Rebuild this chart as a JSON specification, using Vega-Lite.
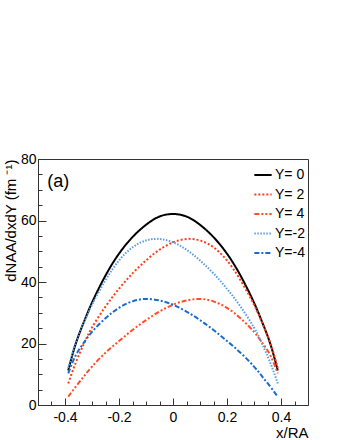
{
  "$schema": "https://vega.github.io/schema/vega-lite/v6.json",
  "width": 270,
  "height": 246,
  "autosize": {"type": "none"},
  "padding": {"left": 38, "top": 159, "right": 32, "bottom": 35},
  "config": {
    "font": "Liberation Sans",
    "view": {"stroke": "#333333", "strokeWidth": 1}
  },
  "datasets": {
    "curves": [
      {"s": "Y= 0", "x": -0.388, "y": 11.2}, {"s": "Y= 0", "x": -0.36, "y": 20.0}, {"s": "Y= 0", "x": -0.33, "y": 27.0}, {"s": "Y= 0", "x": -0.3, "y": 33.3}, {"s": "Y= 0", "x": -0.25, "y": 42.1}, {"s": "Y= 0", "x": -0.2, "y": 49.2}, {"s": "Y= 0", "x": -0.15, "y": 54.6}, {"s": "Y= 0", "x": -0.1, "y": 58.6}, {"s": "Y= 0", "x": -0.05, "y": 61.3}, {"s": "Y= 0", "x": 0, "y": 62.1}, {"s": "Y= 0", "x": 0.05, "y": 61.3}, {"s": "Y= 0", "x": 0.1, "y": 58.6}, {"s": "Y= 0", "x": 0.15, "y": 54.6}, {"s": "Y= 0", "x": 0.2, "y": 49.2}, {"s": "Y= 0", "x": 0.25, "y": 42.1}, {"s": "Y= 0", "x": 0.3, "y": 33.3}, {"s": "Y= 0", "x": 0.33, "y": 27.0}, {"s": "Y= 0", "x": 0.36, "y": 20.0}, {"s": "Y= 0", "x": 0.388, "y": 11.2},
      {"s": "Y= 2", "x": -0.388, "y": 7.0}, {"s": "Y= 2", "x": -0.36, "y": 13.8}, {"s": "Y= 2", "x": -0.33, "y": 19.9}, {"s": "Y= 2", "x": -0.3, "y": 25.2}, {"s": "Y= 2", "x": -0.25, "y": 32.0}, {"s": "Y= 2", "x": -0.2, "y": 37.8}, {"s": "Y= 2", "x": -0.15, "y": 42.8}, {"s": "Y= 2", "x": -0.1, "y": 47.0}, {"s": "Y= 2", "x": -0.05, "y": 50.5}, {"s": "Y= 2", "x": 0, "y": 52.9}, {"s": "Y= 2", "x": 0.05, "y": 54.0}, {"s": "Y= 2", "x": 0.1, "y": 53.5}, {"s": "Y= 2", "x": 0.15, "y": 51.3}, {"s": "Y= 2", "x": 0.2, "y": 47.0}, {"s": "Y= 2", "x": 0.25, "y": 40.6}, {"s": "Y= 2", "x": 0.3, "y": 32.6}, {"s": "Y= 2", "x": 0.33, "y": 26.8}, {"s": "Y= 2", "x": 0.36, "y": 20.2}, {"s": "Y= 2", "x": 0.388, "y": 12.0},
      {"s": "Y= 4", "x": -0.388, "y": 2.7}, {"s": "Y= 4", "x": -0.36, "y": 6.0}, {"s": "Y= 4", "x": -0.33, "y": 9.3}, {"s": "Y= 4", "x": -0.3, "y": 12.5}, {"s": "Y= 4", "x": -0.25, "y": 17.0}, {"s": "Y= 4", "x": -0.2, "y": 20.8}, {"s": "Y= 4", "x": -0.15, "y": 24.4}, {"s": "Y= 4", "x": -0.1, "y": 27.6}, {"s": "Y= 4", "x": -0.05, "y": 30.4}, {"s": "Y= 4", "x": 0, "y": 32.6}, {"s": "Y= 4", "x": 0.05, "y": 34.0}, {"s": "Y= 4", "x": 0.1, "y": 34.5}, {"s": "Y= 4", "x": 0.15, "y": 33.7}, {"s": "Y= 4", "x": 0.2, "y": 31.6}, {"s": "Y= 4", "x": 0.25, "y": 28.2}, {"s": "Y= 4", "x": 0.3, "y": 23.8}, {"s": "Y= 4", "x": 0.33, "y": 20.3}, {"s": "Y= 4", "x": 0.36, "y": 16.2}, {"s": "Y= 4", "x": 0.388, "y": 10.3},
      {"s": "Y=-2", "x": 0.388, "y": 7.0}, {"s": "Y=-2", "x": 0.36, "y": 13.8}, {"s": "Y=-2", "x": 0.33, "y": 19.9}, {"s": "Y=-2", "x": 0.3, "y": 25.2}, {"s": "Y=-2", "x": 0.25, "y": 32.0}, {"s": "Y=-2", "x": 0.2, "y": 37.8}, {"s": "Y=-2", "x": 0.15, "y": 42.8}, {"s": "Y=-2", "x": 0.1, "y": 47.0}, {"s": "Y=-2", "x": 0.05, "y": 50.5}, {"s": "Y=-2", "x": 0, "y": 52.9}, {"s": "Y=-2", "x": -0.05, "y": 54.0}, {"s": "Y=-2", "x": -0.1, "y": 53.5}, {"s": "Y=-2", "x": -0.15, "y": 51.3}, {"s": "Y=-2", "x": -0.2, "y": 47.0}, {"s": "Y=-2", "x": -0.25, "y": 40.6}, {"s": "Y=-2", "x": -0.3, "y": 32.6}, {"s": "Y=-2", "x": -0.33, "y": 26.8}, {"s": "Y=-2", "x": -0.36, "y": 20.2}, {"s": "Y=-2", "x": -0.388, "y": 12.0},
      {"s": "Y=-4", "x": 0.388, "y": 2.7}, {"s": "Y=-4", "x": 0.36, "y": 6.0}, {"s": "Y=-4", "x": 0.33, "y": 9.3}, {"s": "Y=-4", "x": 0.3, "y": 12.5}, {"s": "Y=-4", "x": 0.25, "y": 17.0}, {"s": "Y=-4", "x": 0.2, "y": 20.8}, {"s": "Y=-4", "x": 0.15, "y": 24.4}, {"s": "Y=-4", "x": 0.1, "y": 27.6}, {"s": "Y=-4", "x": 0.05, "y": 30.4}, {"s": "Y=-4", "x": 0, "y": 32.6}, {"s": "Y=-4", "x": -0.05, "y": 34.0}, {"s": "Y=-4", "x": -0.1, "y": 34.5}, {"s": "Y=-4", "x": -0.15, "y": 33.7}, {"s": "Y=-4", "x": -0.2, "y": 31.6}, {"s": "Y=-4", "x": -0.25, "y": 28.2}, {"s": "Y=-4", "x": -0.3, "y": 23.8}, {"s": "Y=-4", "x": -0.33, "y": 20.3}, {"s": "Y=-4", "x": -0.36, "y": 16.2}, {"s": "Y=-4", "x": -0.388, "y": 10.3}
    ],
    "tag": [{"label": "(a)", "x": -0.466, "y": 72.5}]
  },
  "resolve": {"axis": {"x": "independent", "y": "independent"}},
  "layer": [
    {
      "data": {"name": "curves"},
      "mark": {"type": "line", "interpolate": "natural"},
      "encoding": {
        "x": {
          "field": "x", "type": "quantitative",
          "scale": {"domain": [-0.5, 0.5], "nice": false, "zero": false},
          "axis": {
            "orient": "bottom",
            "values": [-0.4, -0.2, 0, 0.2, 0.4],
            "labelExpr": "abs(datum.value) < 0.001 ? '0' : (datum.value < 0 ? '-' : '') + toString(round(abs(datum.value)*10)/10)",
            "tickSize": -7,
            "grid": false,
            "domainColor": "#333333",
            "tickColor": "#333333",
            "labelColor": "#000000",
            "labelFontSize": 14,
            "labelPadding": 12,
            "labelFlush": false,
            "labelOverlap": false,
            "title": "x/RA",
            "titleAnchor": "end",
            "titleAlign": "right",
            "titleFontSize": 15,
            "titleFontWeight": "normal",
            "titleColor": "#000000",
            "titlePadding": 1
          }
        },
        "y": {
          "field": "y", "type": "quantitative",
          "scale": {"domain": [0, 80], "nice": false},
          "axis": {
            "orient": "left",
            "values": [0, 20, 40, 60, 80],
            "tickSize": -8,
            "grid": false,
            "domainColor": "#333333",
            "tickColor": "#333333",
            "labelColor": "#000000",
            "labelFontSize": 14,
            "labelPadding": 10,
            "labelFlush": false,
            "labelOverlap": false,
            "title": "dNAA/dxdY (fm ⁻¹)",
            "titleAnchor": "end",
            "titleFontSize": 15,
            "titleFontWeight": "normal",
            "titleColor": "#000000",
            "titlePadding": 2
          }
        },
        "color": {
          "field": "s", "type": "nominal",
          "scale": {"domain": ["Y= 0", "Y= 2", "Y= 4", "Y=-2", "Y=-4"], "range": ["#000000", "#ff3b1a", "#ff4d26", "#5a9de6", "#1a6bd0"]},
          "legend": {
            "title": null,
            "orient": "none",
            "legendX": 215,
            "legendY": 6,
            "symbolType": "stroke",
            "symbolSize": 300,
            "symbolStrokeWidth": 2,
            "labelFontSize": 14,
            "labelColor": "#000000",
            "labelOffset": 2,
            "rowPadding": 2.5,
            "padding": 0
          }
        },
        "strokeDash": {
          "field": "s", "type": "nominal",
          "scale": {"domain": ["Y= 0", "Y= 2", "Y= 4", "Y=-2", "Y=-4"], "range": [[1, 0], [2, 2], [5, 2, 2, 2, 2, 2], [1.5, 1.5], [5, 2, 2, 2]]},
          "legend": null
        },
        "strokeWidth": {
          "field": "s", "type": "nominal",
          "scale": {"domain": ["Y= 0", "Y= 2", "Y= 4", "Y=-2", "Y=-4"], "range": [2, 2, 2, 1.5, 2]},
          "legend": null
        }
      }
    },
    {
      "data": {"name": "tag"},
      "mark": {"type": "text", "align": "left", "baseline": "middle", "fontSize": 18, "color": "#000000"},
      "encoding": {
        "x": {
          "field": "x", "type": "quantitative",
          "axis": {
            "orient": "bottom",
            "values": [-0.45, -0.35, -0.3, -0.25, -0.15, -0.1, -0.05, 0.05, 0.1, 0.15, 0.25, 0.3, 0.35, 0.45],
            "tickSize": -4,
            "labels": false,
            "domain": false,
            "grid": false,
            "title": null,
            "tickColor": "#333333"
          }
        },
        "y": {
          "field": "y", "type": "quantitative",
          "axis": {
            "orient": "left",
            "values": [5, 10, 15, 25, 30, 35, 45, 50, 55, 65, 70, 75],
            "tickSize": -4,
            "labels": false,
            "domain": false,
            "grid": false,
            "title": null,
            "tickColor": "#333333"
          }
        },
        "text": {"field": "label"}
      }
    }
  ]
}
